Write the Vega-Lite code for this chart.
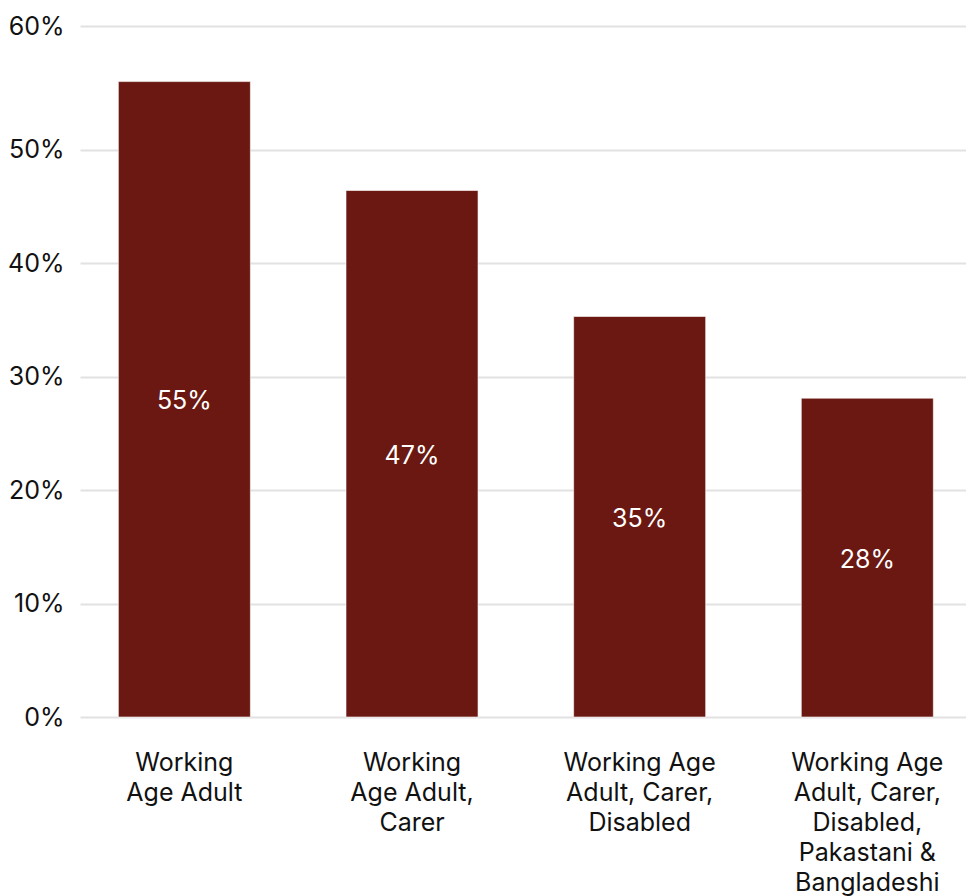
{
  "$schema": "https://vega.github.io/schema/vega-lite/v6.json",
  "width": 886,
  "height": 691,
  "autosize": {"type": "none"},
  "padding": {"left": 80, "top": 26, "right": 0, "bottom": 179},
  "background": "white",
  "config": {
    "view": {"stroke": null},
    "font": "Inter",
    "axis": {"labelFont": "Inter", "labelFontSize": 25, "labelColor": "#111111"}
  },
  "data": {
    "values": [
      {"group": "Working\nAge Adult", "value": 0.560, "label": "55%"},
      {"group": "Working\nAge Adult,\nCarer", "value": 0.464, "label": "47%"},
      {"group": "Working Age\nAdult, Carer,\nDisabled", "value": 0.353, "label": "35%"},
      {"group": "Working Age\nAdult, Carer,\nDisabled,\nPakastani &\nBangladeshi", "value": 0.281, "label": "28%"}
    ]
  },
  "transform": [{"calculate": "datum.value / 2", "as": "mid"}],
  "encoding": {
    "x": {
      "field": "group",
      "type": "nominal",
      "sort": null,
      "scale": {"paddingInner": 0.42, "paddingOuter": 0.156, "align": 0.54},
      "axis": {
        "title": null,
        "labelAngle": 0,
        "domain": false,
        "ticks": false,
        "labelPadding": 33,
        "labelLineHeight": 30,
        "labelBaseline": "top",
        "labelExpr": "split(datum.label, '\\n')"
      }
    }
  },
  "layer": [
    {
      "mark": {"type": "bar", "color": "#6A1811", "stroke": "#ffffff", "strokeWidth": 0.6},
      "encoding": {
        "y": {
          "field": "value",
          "type": "quantitative",
          "scale": {"domain": [0, 0.609], "nice": false},
          "axis": {
            "title": null,
            "values": [0, 0.1, 0.2, 0.3, 0.4, 0.5, 0.609],
            "labelExpr": "datum.value > 0.55 ? '60%' : format(datum.value, '.0%')",
            "domain": false,
            "ticks": false,
            "labelPadding": 16,
            "gridColor": "#e2e2e2",
            "gridWidth": 2
          }
        }
      }
    },
    {
      "mark": {"type": "text", "color": "white", "fontSize": 25, "font": "Inter", "dy": 2},
      "encoding": {
        "y": {"field": "mid", "type": "quantitative"},
        "text": {"field": "label"}
      }
    }
  ]
}
